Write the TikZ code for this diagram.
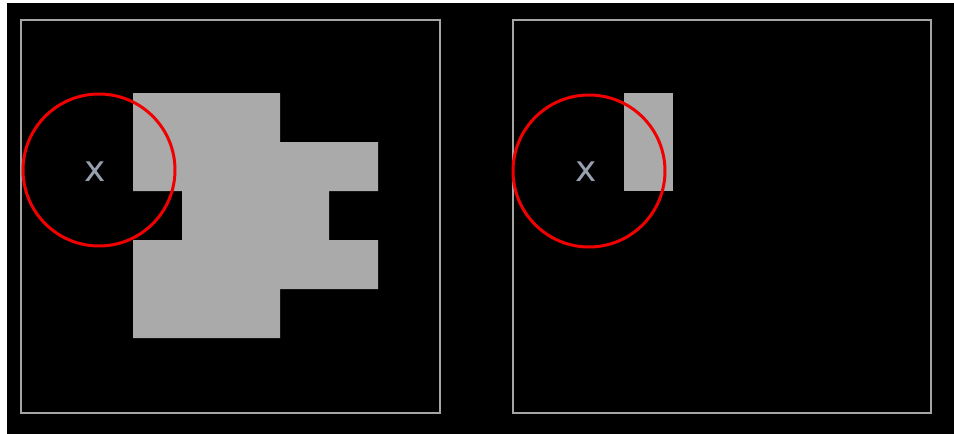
\documentclass[tikz,border=0pt]{standalone}
\usepackage{fontspec}
\setmainfont{DejaVu Sans}
\definecolor{framegray}{RGB}{165,165,165}
\definecolor{fillgray}{RGB}{170,170,170}
\definecolor{xcol}{RGB}{150,160,175}
\definecolor{ringred}{RGB}{240,0,0}
\begin{document}
\begin{tikzpicture}[x=1pt,y=-1pt,
  framebox/.style={draw=framegray,line width=2.2pt},
  blob/.style={fill=fillgray,draw=none},
  ring/.style={draw=ringred,line width=3pt},
  mark label/.style={text=xcol,font=\fontsize{36}{36}\selectfont,inner sep=0pt}]
\useasboundingbox (0,0) rectangle (954,434);
\fill[white] (0,0) rectangle (954,434);
\fill[black] (7,3) rectangle (954,434);
% left panel
\draw[framebox] (21,20) rectangle (440,413);
\fill[blob] (133,93) -- (280,93) -- (280,142) -- (378,142) -- (378,191) -- (329,191) -- (329,240) -- (378,240) -- (378,289) -- (280,289) -- (280,338) -- (133,338) -- (133,240) -- (182,240) -- (182,191) -- (133,191) -- cycle;
\draw[ring] (99,170) circle (76);
\node[mark label] (xa) at (95,172) {x};
% right panel
\draw[framebox] (513,20) rectangle (931,413);
\fill[blob] (624,93) rectangle (673,191);
\draw[ring] (589,171) circle (76);
\node[mark label] (xb) at (586,172) {x};
\end{tikzpicture}
\end{document}
